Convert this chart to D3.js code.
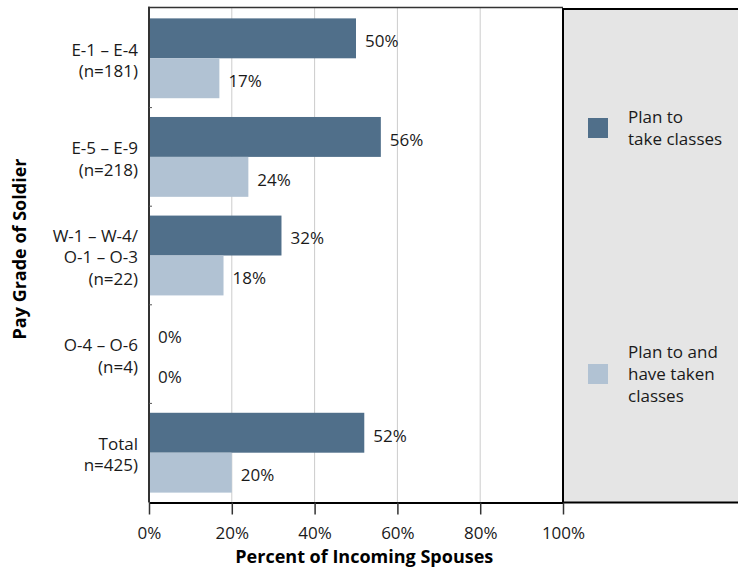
<!DOCTYPE html>
<html>
<head>
<meta charset="utf-8">
<script src="https://cdn.jsdelivr.net/npm/d3@7"></script>
<style>
  body { margin: 0; background: #fff; }
  svg { display: block; font-family: "Open Sans", sans-serif; }
  .tick text { font-size: 17px; fill: #1a1a1a; }
</style>
</head>
<body>
<div id="chart"></div>
<script>
// data
var categories = ["E-1 – E-4", "E-5 – E-9", "W-1 – W-4/O-1 – O-3", "O-4 – O-6", "Total"];
var categoryLines = [
	["E-1 – E-4", "(n=181)"],
	["E-5 – E-9", "(n=218)"],
	["W-1 – W-4/", "O-1 – O-3", "(n=22)"],
	["O-4 – O-6", "(n=4)"],
	["Total", "n=425)"]
];
var planToTake = [50, 56, 32, 0, 52];
var planAndTaken = [17, 24, 18, 0, 20];
var seriesNames = ["Plan to take classes", "Plan to and have taken classes"];
var legendLines = [["Plan to", "take classes"], ["Plan to and", "have taken", "classes"]];
var xTicks = [0, 20, 40, 60, 80, 100];

var colors = ["#506f8a", "#b1c2d3"];

var svgWidth = 738;
var svgHeight = 571;

var margin = { top: 9, left: 149 };
var width = 414;
var height = 493;

var svg = d3.select("#chart")
	.append("svg")
	.attr("width", svgWidth)
	.attr("height", svgHeight);

var x = d3.scaleLinear()
	.domain([0, 100])
	.range([margin.left, margin.left + width]);

var y0 = d3.scaleBand()
	.domain(categories)
	.range([margin.top, margin.top + height]);

var y1 = d3.scaleBand()
	.domain([0, 1])
	.range([0, y0.bandwidth()])
	.paddingOuter(0.235);

var bottom = margin.top + height + 0.5;

// legend panel on the right
svg.append("rect")
	.attr("x", x(100))
	.attr("y", margin.top)
	.attr("width", 200)
	.attr("height", bottom - margin.top)
	.attr("fill", "#e5e5e5")
	.attr("stroke", "#000")
	.attr("stroke-width", 2);

// vertical gridlines
svg.selectAll(".grid")
	.data(xTicks.filter(d => d > 0 && d < 100))
	.enter()
	.append("line")
	.attr("x1", d => x(d))
	.attr("x2", d => x(d))
	.attr("y1", 7.5)
	.attr("y2", bottom)
	.attr("stroke", "#cccccc")
	.attr("stroke-width", 1);

// top frame
svg.append("line")
	.attr("x1", x(0) - 1)
	.attr("x2", x(100))
	.attr("y1", 7.5)
	.attr("y2", 7.5)
	.attr("stroke", "#333")
	.attr("stroke-width", 1.5);

// bars
var rows = categories.map((c, i) => ({ cat: c, values: [planToTake[i], planAndTaken[i]] }));

var groups = svg.selectAll(".group")
	.data(rows)
	.enter()
	.append("g")
	.attr("transform", d => `translate(0, ${y0(d.cat)})`);

groups.selectAll("rect")
	.data(d => d.values.map((v, k) => ({ v: v, k: k })))
	.enter()
	.append("rect")
	.attr("x", x(0))
	.attr("y", d => y1(d.k))
	.attr("width", d => Math.max(1, x(d.v) - x(0)))
	.attr("height", y1.bandwidth())
	.attr("fill", d => colors[d.k]);

groups.selectAll(".val")
	.data(d => d.values.map((v, k) => ({ v: v, k: k })))
	.enter()
	.append("text")
	.attr("x", d => x(d.v) + 9)
	.attr("y", d => y1(d.k) + y1.bandwidth() / 2)
	.attr("dy", "0.52em")
	.attr("font-size", 17)
	.attr("fill", "#1a1a1a")
	.text(d => d.v + "%");

// category labels
groups.each(function(d, i) {
	var lines = categoryLines[i];
	var t = d3.select(this).append("text")
		.attr("text-anchor", "end")
		.attr("font-size", 17)
		.attr("fill", "#1a1a1a");
	lines.forEach(function(line, j) {
		t.append("tspan")
			.attr("x", x(0) - 11)
			.attr("y", y0.bandwidth() / 2 + 8 + (j - (lines.length - 1) / 2) * 21.5)
			.text(line);
	});
});

// left axis line with small ticks at band edges
svg.append("line")
	.attr("x1", x(0))
	.attr("x2", x(0))
	.attr("y1", 6.75)
	.attr("y2", bottom)
	.attr("stroke", "#333")
	.attr("stroke-width", 2);

svg.selectAll(".ytick")
	.data(categories.slice(1))
	.enter()
	.append("line")
	.attr("x1", x(0))
	.attr("x2", x(0) + 3)
	.attr("y1", d => y0(d))
	.attr("y2", d => y0(d))
	.attr("stroke", "#555")
	.attr("stroke-width", 1);

// bottom axis
var bottomAxis = d3.axisBottom(x)
	.tickValues(xTicks)
	.tickSize(12)
	.tickSizeOuter(0)
	.tickPadding(12)
	.tickFormat(d => d + "%");

var xAxis = svg.append("g")
	.attr("transform", `translate(0, ${bottom})`)
	.call(bottomAxis);

xAxis.select(".domain")
	.attr("stroke", "#000")
	.attr("stroke-width", 2);
xAxis.selectAll(".tick line")
	.attr("stroke", "#333")
	.attr("stroke-width", 1.5);
xAxis.selectAll(".tick text")
	.attr("font-family", "Open Sans, sans-serif");

// axis titles
svg.append("text")
	.attr("x", x(52))
	.attr("y", 563)
	.attr("text-anchor", "middle")
	.attr("font-size", 18)
	.attr("font-weight", "bold")
	.attr("fill", "#000")
	.text("Percent of Incoming Spouses");

svg.append("text")
	.attr("transform", "translate(26, 249) rotate(-90)")
	.attr("text-anchor", "middle")
	.attr("font-size", 18)
	.attr("font-weight", "bold")
	.attr("fill", "#000")
	.text("Pay Grade of Soldier");

// legend
var legendY = [118, 364];
var legendTextY = [123.3, 358.3];

seriesNames.forEach(function(name, k) {
	svg.append("rect")
		.attr("x", 588)
		.attr("y", legendY[k])
		.attr("width", 20)
		.attr("height", 20)
		.attr("fill", colors[k]);

	var t = svg.append("text")
		.attr("font-size", 17)
		.attr("fill", "#1a1a1a");
	legendLines[k].forEach(function(line, j) {
		t.append("tspan")
			.attr("x", 628)
			.attr("y", legendTextY[k] + j * 21.7)
			.text(line);
	});
});
</script>
</body>
</html>
